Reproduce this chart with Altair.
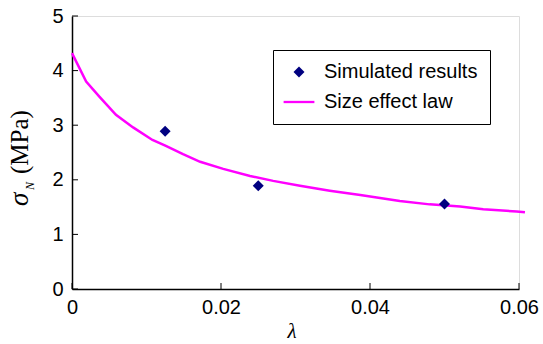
import altair as alt
import pandas as pd

# ---- data ----
sim_lambda = [0.0125, 0.025, 0.05]
sim_sigma = [2.89, 1.89, 1.555]

law_lambda = [0, 0.0019, 0.0037, 0.0059, 0.0082, 0.0108, 0.0126, 0.0149, 0.0172,
              0.0203, 0.0239, 0.027, 0.0306, 0.0346, 0.0387, 0.044, 0.048, 0.0521,
              0.0552, 0.0597, 0.0608]
law_sigma = [4.32, 3.80, 3.52, 3.19, 2.96, 2.73, 2.62, 2.47, 2.33,
             2.20, 2.07, 1.98, 1.89, 1.80, 1.72, 1.61, 1.55, 1.51,
             1.46, 1.42, 1.405]

series_names = ["Simulated results", "Size effect law"]
x_ticks = [0, 0.02, 0.04, 0.06]
y_ticks = [0, 1, 2, 3, 4, 5]

W, H = 447, 273
SANS = "Liberation Sans"
SERIF = "Liberation Serif"

law = pd.DataFrame({"lam": law_lambda, "sig": law_sigma})
sim = pd.DataFrame({"lam": sim_lambda, "sig": sim_sigma,
                    "series": [series_names[0]] * len(sim_lambda)})

x_scale = alt.Scale(domain=[0, 0.06], nice=False, zero=False)
y_scale = alt.Scale(domain=[0, 5], nice=False)

x_axis = alt.Axis(values=x_ticks, format=".2~f", title=None, ticks=False, grid=False,
                  domainColor="black", domainWidth=1.5, labelFont=SANS, labelFontSize=20,
                  labelColor="black", labelPadding=8, labelFlush=False)
y_axis = alt.Axis(values=y_ticks, format="d", title=None, ticks=False, grid=False,
                  domainColor="black", domainWidth=1.5, labelFont=SANS, labelFontSize=20,
                  labelColor="black", labelPadding=9, labelFlush=False)

legend = alt.Legend(title=None, orient="none", legendX=201, legendY=34,
                    strokeColor="black", fillColor="white", padding=12,
                    labelFont=SANS, labelFontSize=20, labelColor="black",
                    symbolSize=121, symbolOffset=4, labelOffset=15, rowPadding=10)

line_path = "M-2.8,-0.21H2.8V0.21H-2.8Z"

line = alt.Chart(law).mark_line(color="#FF00FF", strokeWidth=2.5, clip=False).encode(
    x=alt.X("lam:Q", scale=x_scale, axis=x_axis),
    y=alt.Y("sig:Q", scale=y_scale, axis=y_axis),
)

points = alt.Chart(sim).mark_point(filled=True, size=121, opacity=1).encode(
    x=alt.X("lam:Q", scale=x_scale, axis=x_axis),
    y=alt.Y("sig:Q", scale=y_scale, axis=y_axis),
    color=alt.Color("series:N", scale=alt.Scale(domain=series_names, range=["#000080", "#FF00FF"]),
                    legend=legend),
    shape=alt.Shape("series:N", scale=alt.Scale(domain=series_names, range=["diamond", line_path]),
                    legend=legend),
)

yt = alt.Chart(pd.DataFrame({"v": y_ticks})).mark_rule(color="black", strokeWidth=1).encode(
    y=alt.Y("v:Q", scale=y_scale, axis=y_axis), x=alt.value(0), x2=alt.value(6))
xt = alt.Chart(pd.DataFrame({"v": x_ticks})).mark_rule(color="black", strokeWidth=1).encode(
    x=alt.X("v:Q", scale=x_scale, axis=x_axis), y=alt.value(H), y2=alt.value(H - 6))

def label(txt, x, y, size, italic=True, align="left"):
    return alt.Chart(pd.DataFrame({"t": [txt]})).mark_text(
        font=SERIF, fontStyle="italic" if italic else "normal", fontSize=size,
        angle=270, align=align, baseline="alphabetic", color="black").encode(
        text="t:N", x=alt.value(x), y=alt.value(y))

sig = label("σ", -44, 190, 27)
sub = label("N", -38, 174, 12)
mpa = label("(MPa)", -44, 158, 25, italic=False)

lam = alt.Chart(pd.DataFrame({"t": ["λ"]})).mark_text(
    font=SERIF, fontStyle="italic", fontSize=21, align="center", baseline="alphabetic",
    color="black").encode(text="t:N", x=alt.value(220), y=alt.value(322))

chart = alt.layer(line, yt, xt, points, sig, sub, mpa, lam).properties(
    width=W, height=H,
    autosize=alt.AutoSizeParams(type="none"),
    padding={"left": 72, "top": 16, "right": 24, "bottom": 55},
).configure_view(stroke="#A0A0A0", strokeWidth=1).configure(background="white")

chart.save("out.html", embed_options={"renderer": "svg", "actions": False})
